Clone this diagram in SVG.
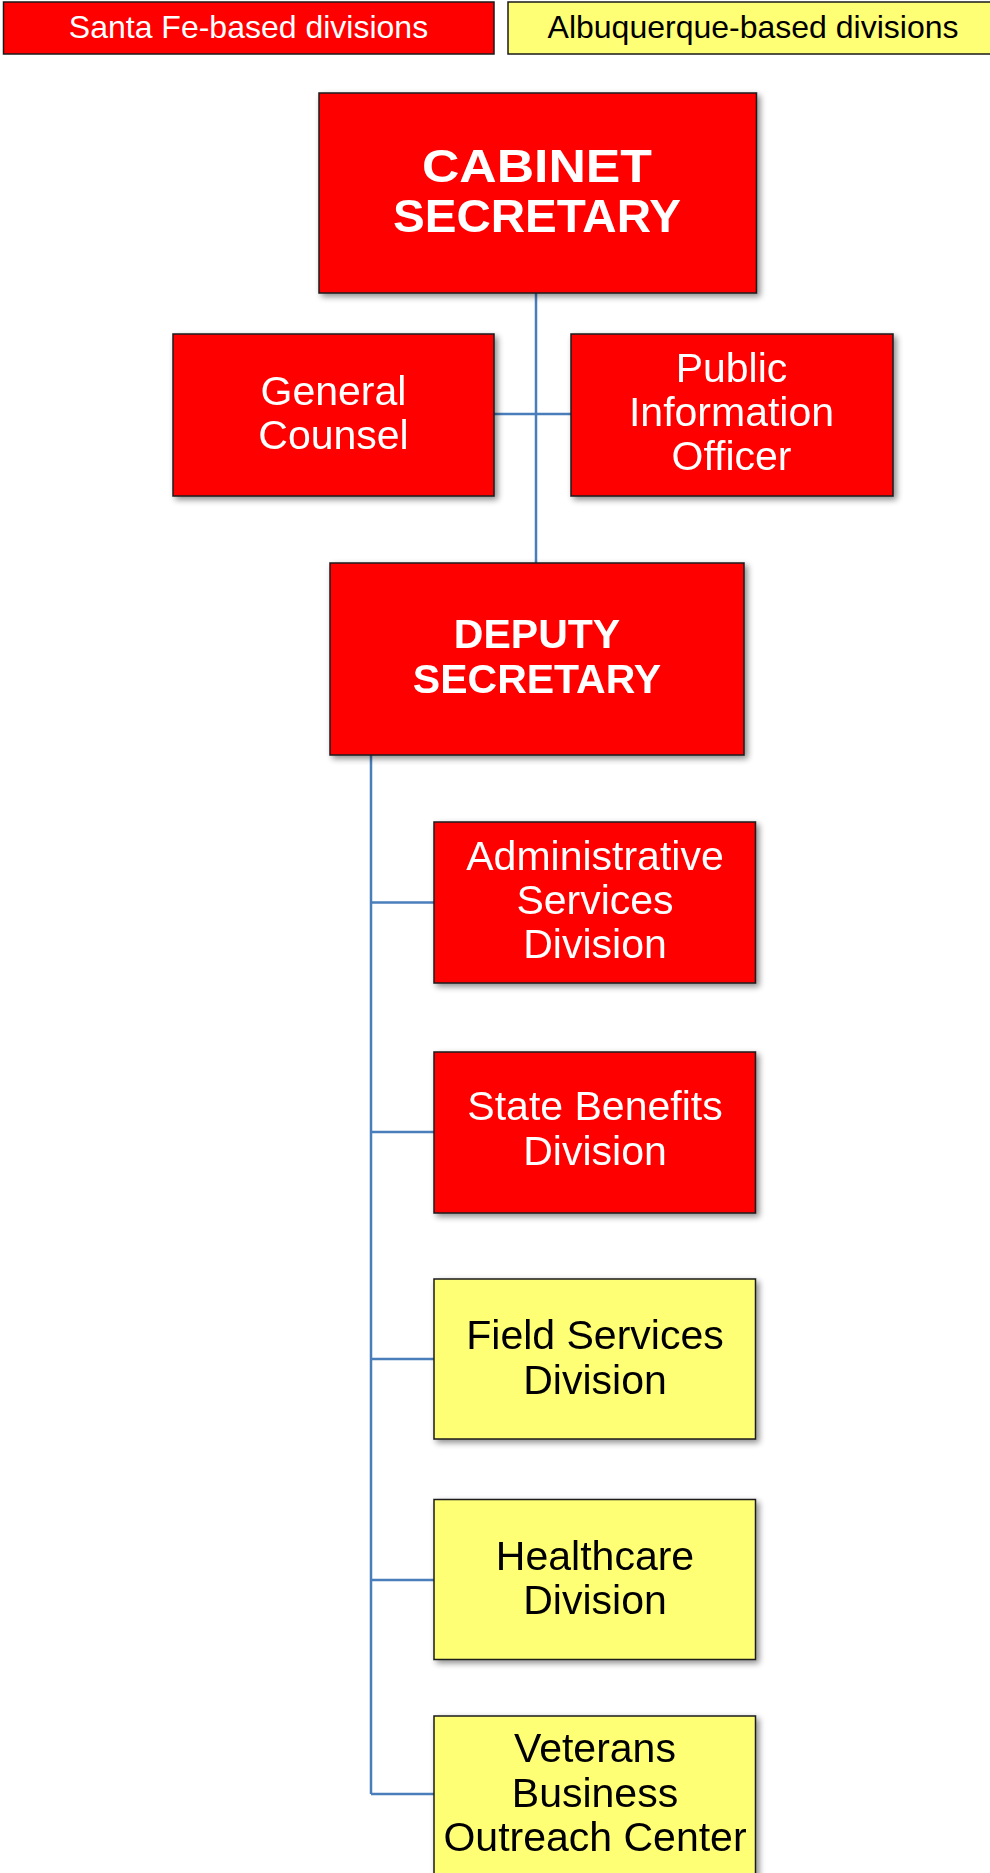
<svg xmlns="http://www.w3.org/2000/svg" width="990" height="1873" viewBox="0 0 990 1873">
<style>
.red{fill:#FF0000;stroke:#1a1a1a;stroke-width:1.5}
.yel{fill:#FFFF75;stroke:#1a1a1a;stroke-width:1.5}
.t{font-family:"Liberation Sans",Arial,sans-serif;font-size:41px;text-anchor:middle}
.w{fill:#FFFFFF}
.k{fill:#000000}
.b{font-weight:bold}
.lg{font-family:"Liberation Sans",Arial,sans-serif;font-size:32px;text-anchor:middle}
.ln{stroke:#4A7EBB;stroke-width:2.5;fill:none}
</style>
<defs>
<filter id="sh" x="-10%" y="-10%" width="130%" height="130%">
<feGaussianBlur in="SourceAlpha" stdDeviation="3"/>
<feOffset dx="3" dy="3" result="b"/>
<feComponentTransfer><feFuncA type="linear" slope="0.45"/></feComponentTransfer>
<feMerge><feMergeNode/><feMergeNode in="SourceGraphic"/></feMerge>
</filter>
</defs>
<rect width="990" height="1873" fill="#FFFFFF"/>
<g id="legend">
<g id="legend-santafe">
<rect class="red" x="3.5" y="2" width="490.5" height="52"/>
<text class="lg w" x="248.5" y="38">Santa Fe-based divisions</text>
</g>
<g id="legend-albuquerque">
<rect class="yel" x="508" y="2" width="490" height="52"/>
<text class="lg k" x="753" y="38">Albuquerque-based divisions</text>
</g>
</g>
<g id="connectors">
<path class="ln" d="M536,293 V563"/>
<path class="ln" d="M494,414 H571"/>
<path class="ln" d="M371,755 V1794"/>
<path class="ln" d="M371,902.5 H434"/>
<path class="ln" d="M371,1132 H434"/>
<path class="ln" d="M371,1359 H434"/>
<path class="ln" d="M371,1580 H434"/>
<path class="ln" d="M371,1794 H434"/>
</g>
<g id="cabinet-secretary" filter="url(#sh)">
<rect class="red" x="319" y="93" width="437.5" height="200"/>
<text class="t w b" style="font-size:46px" x="537" y="182" textLength="230" lengthAdjust="spacingAndGlyphs">CABINET</text>
<text class="t w b" style="font-size:46px" x="537" y="232" textLength="288" lengthAdjust="spacingAndGlyphs">SECRETARY</text>
</g>
<g id="general-counsel" filter="url(#sh)">
<rect class="red" x="173" y="334" width="321" height="162"/>
<text class="t w" x="333.5" y="405">General</text>
<text class="t w" x="333.5" y="449">Counsel</text>
</g>
<g id="public-information-officer" filter="url(#sh)">
<rect class="red" x="571" y="334" width="322" height="162"/>
<text class="t w" x="731.5" y="382">Public</text>
<text class="t w" x="731.5" y="426">Information</text>
<text class="t w" x="731.5" y="470">Officer</text>
</g>
<g id="deputy-secretary" filter="url(#sh)">
<rect class="red" x="330" y="563" width="414" height="192"/>
<text class="t w b" x="537" y="648">DEPUTY</text>
<text class="t w b" x="537" y="693">SECRETARY</text>
</g>
<g id="administrative-services" filter="url(#sh)">
<rect class="red" x="434" y="822" width="321.5" height="161"/>
<text class="t w" x="595" y="870">Administrative</text>
<text class="t w" x="595" y="914">Services</text>
<text class="t w" x="595" y="958">Division</text>
</g>
<g id="state-benefits" filter="url(#sh)">
<rect class="red" x="434" y="1052" width="321.5" height="161"/>
<text class="t w" x="595" y="1120">State Benefits</text>
<text class="t w" x="595" y="1165">Division</text>
</g>
<g id="field-services" filter="url(#sh)">
<rect class="yel" x="434" y="1279" width="321.5" height="160"/>
<text class="t k" x="595" y="1349">Field Services</text>
<text class="t k" x="595" y="1394">Division</text>
</g>
<g id="healthcare" filter="url(#sh)">
<rect class="yel" x="434" y="1499.5" width="321.5" height="160"/>
<text class="t k" x="595" y="1570">Healthcare</text>
<text class="t k" x="595" y="1614">Division</text>
</g>
<g id="veterans-business-outreach" filter="url(#sh)">
<rect class="yel" x="434" y="1716" width="321.5" height="162"/>
<text class="t k" x="595" y="1762">Veterans</text>
<text class="t k" x="595" y="1806.5">Business</text>
<text class="t k" x="595" y="1851">Outreach Center</text>
</g>
</svg>
